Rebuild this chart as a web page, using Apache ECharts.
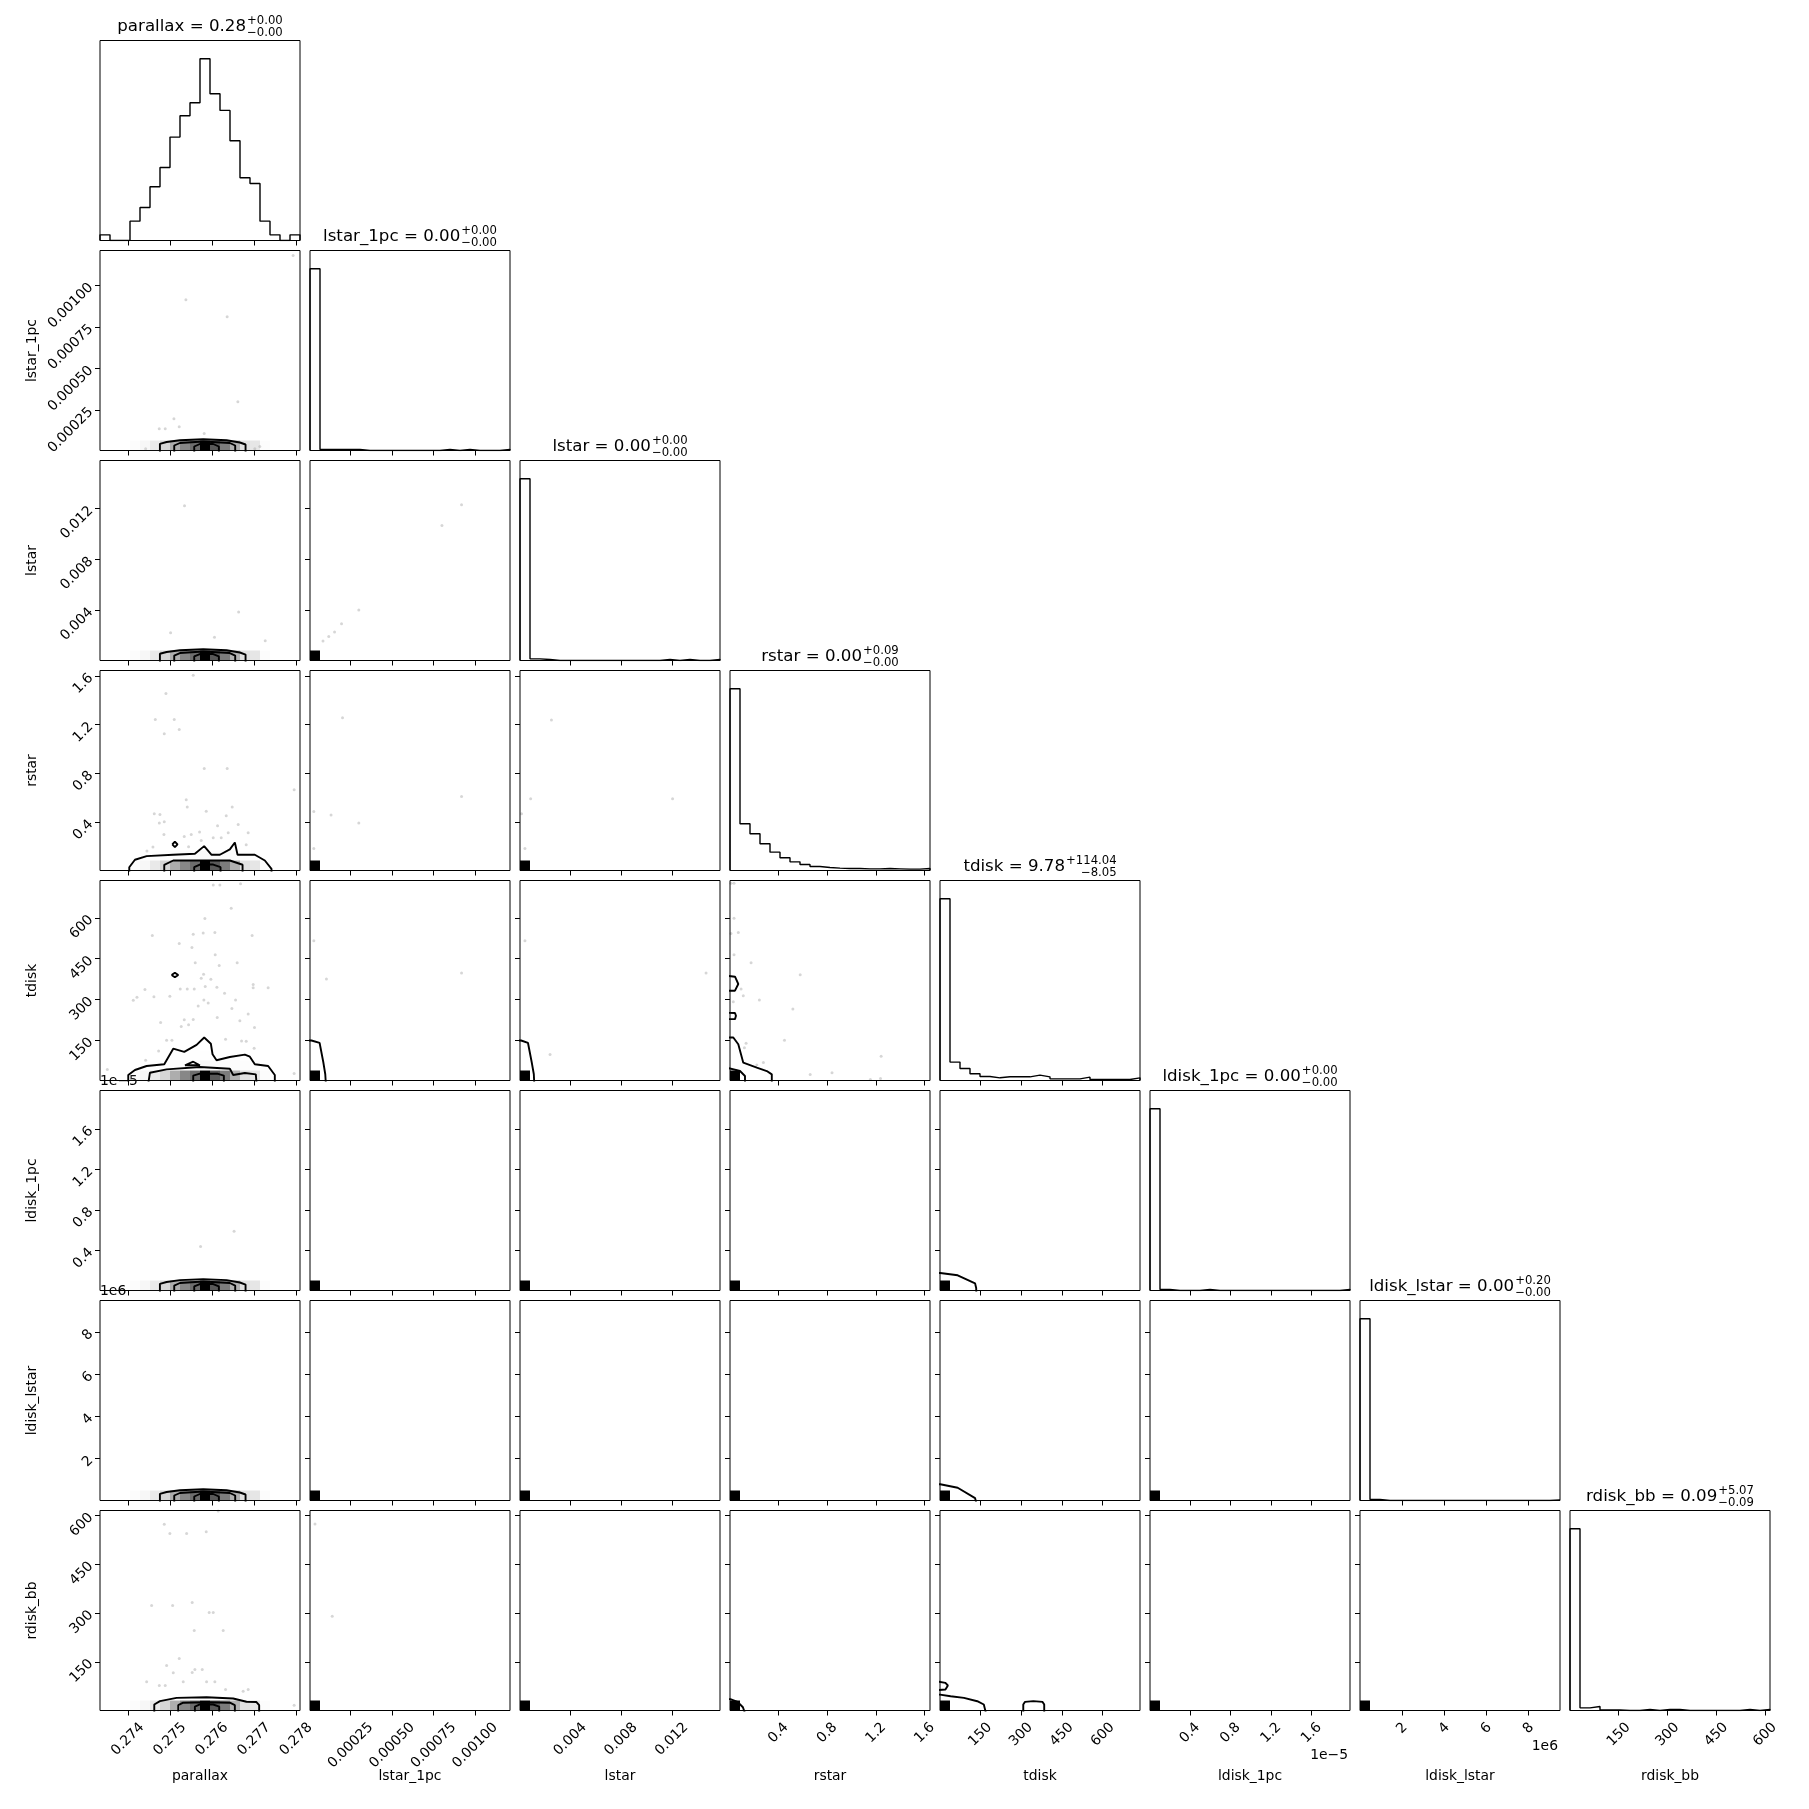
<!DOCTYPE html>
<html><head><meta charset="utf-8">
<script src="https://cdn.jsdelivr.net/npm/echarts@6/dist/echarts.min.js"></script>
<style>html,body{margin:0;padding:0;background:#fff}#c{width:1809px;height:1809px}</style>
</head><body><div id="c"></div>
<script>
const FONT = 'DejaVu Sans';
const names = ['parallax','lstar_1pc','lstar','rstar','tdisk','ldisk_1pc','ldisk_lstar','rdisk_bb'];
const rangeMin = [0.27334, 0.000005, 0.00003, 0.003, 2, 5e-8, 5000, 0];
const rangeMax = [0.27809, 0.00121, 0.0158, 1.644, 737, 1.98e-5, 9.49e6, 615.5];
const tickVals = [
  [0.274,0.275,0.276,0.277,0.278],
  [0.00025,0.0005,0.00075,0.001],
  [0.004,0.008,0.012],
  [0.4,0.8,1.2,1.6],
  [150,300,450,600],
  [0.4e-5,0.8e-5,1.2e-5,1.6e-5],
  [2e6,4e6,6e6,8e6],
  [150,300,450,600]
];
const tickLabels = [
  ['0.274','0.275','0.276','0.277','0.278'],
  ['0.00025','0.00050','0.00075','0.00100'],
  ['0.004','0.008','0.012'],
  ['0.4','0.8','1.2','1.6'],
  ['150','300','450','600'],
  ['0.4','0.8','1.2','1.6'],
  ['2','4','6','8'],
  ['150','300','450','600']
];
const titleMain = ['parallax = 0.28','lstar_1pc = 0.00','lstar = 0.00','rstar = 0.00','tdisk = 9.78','ldisk_1pc = 0.00','ldisk_lstar = 0.00','rdisk_bb = 0.09'];
const titleSup = ['+0.00','+0.00','+0.00','+0.09','+114.04','+0.00','+0.20','+5.07'];
const titleSub = ['\u22120.00','\u22120.00','\u22120.00','\u22120.00','\u22128.05','\u22120.00','\u22120.00','\u22120.09'];

// 1D histograms (20 bins each)
const histParallax = [17,0,0,58,99,161,219,310,374,413,545,440,390,299,188,171,58,17,0,17];
const histLstar1pc = [545,3,3,3,3,0,0,0,0,0,0,0,0,3,0,3,0,0,0,3];
const histLstar = [545,5,3,0,0,0,0,0,0,0,0,0,0,0,3,0,3,0,0,3];
const histRstar = [545,140,110,80,55,38,26,18,12,9,7,6,6,5,5,6,5,4,4,6];
const histTdisk = [543,55,36,20,12,8,11,11,11,16,11,5,5,5,10,3,3,3,3,8];
const histLdisk1pc = [543,3,0,0,0,3,0,0,0,0,0,0,0,0,0,0,0,0,0,3];
const histLdiskLstar = [545,3,0,0,0,0,0,0,0,0,0,0,0,0,0,0,0,0,0,2];
const histRdisk = [545,8,12,2,2,0,0,3,0,3,3,0,0,0,0,0,0,3,0,3];
const hists = [histParallax,histLstar1pc,histLstar,histRstar,histTdisk,histLdisk1pc,histLdiskLstar,histRdisk];

// 2D density: second / third y-bin of parallax column for rstar / tdisk rows
const bandRow2Rstar = [0,0,0,20,30,40,50,60,70,70,80,70,60,50,40,30,20,10,0,0];
const bandRow2Tdisk = [0,0,0,20,30,40,50,60,70,80,90,80,70,60,50,40,30,10,0,0];
const bandRow3Tdisk = [0,0,0,0,10,15,20,25,30,35,40,35,30,25,20,15,10,0,0,0];

// scatter points (x, y) in data units
const pts_1_0 = [[0.27538,0.000913],[0.27636,0.000811],[0.276614,0.000298],[0.275096,0.000196],[0.275221,0.000148],[0.274747,0.000136],[0.274889,0.000136],[0.275815,0.000107],[0.274424,0.000015],[0.277017,0.000015],[0.277136,0.000029],[0.277926,0.00118]];
const pts_2_0 = [[0.275347,0.01223],[0.276633,0.00385],[0.275017,0.00222],[0.276059,0.00186],[0.277264,0.00158]];
const pts_3_0 = [[0.274906,1.455],[0.274653,1.242],[0.275104,1.242],[0.274866,1.126],[0.275222,1.159],[0.275816,0.839],[0.276361,0.839],[0.277951,0.666],[0.275388,0.584],[0.275412,0.524],[0.27648,0.524],[0.275863,0.49],[0.274629,0.469],[0.274764,0.463],[0.274748,0.392],[0.274866,0.403],[0.276132,0.37],[0.276622,0.381],[0.276338,0.452],[0.274858,0.299],[0.275341,0.282],[0.275507,0.299],[0.275705,0.318],[0.276029,0.272],[0.276219,0.272],[0.276385,0.313],[0.276859,0.313],[0.275744,0.25],[0.274597,0.195],[0.274455,0.162],[0.275444,0.198],[0.276812,0.214],[0.275554,1.606]];
const pts_4_0 = [[0.276029,720.9],[0.276187,720.9],[0.276678,724.6],[0.276456,634.7],[0.275831,597.7],[0.274582,534.8],[0.275554,539.6],[0.275791,544.4],[0.276068,545.9],[0.276953,534.8],[0.275222,505.2],[0.275523,490.4],[0.276076,464.5],[0.275602,434.9],[0.276598,434.9],[0.276171,424.9],[0.274218,307.6],[0.27413,296.5],[0.274408,336.1],[0.274621,310.2],[0.274999,311.4],[0.275246,338.7],[0.275412,338.7],[0.275578,338.7],[0.275839,347.2],[0.276116,344.6],[0.275744,377.9],[0.2758,392.7],[0.275973,374.2],[0.276298,322.4],[0.276559,298],[0.275269,200.3],[0.275341,225.1],[0.275444,206.6],[0.275554,226.2],[0.275672,275.8],[0.27591,286.9],[0.275807,298],[0.276124,233.6],[0.276472,266.9],[0.276662,221.4],[0.276859,246.2],[0.276978,342.4],[0.276978,354.6],[0.277333,342.4],[0.27478,215.1],[0.274922,150],[0.275048,150],[0.274732,110.4],[0.274424,76],[0.276322,153.7],[0.276702,147.4],[0.276812,146.3],[0.277001,120.4],[0.277009,196.6],[0.277951,27.9],[0.273514,42.7]];
const pts_5_0 = [[0.275729,4.4e-6],[0.276524,5.9e-6]];
const pts_7_0 = [[0.274866,572.9],[0.274999,545],[0.275397,545],[0.275863,550],[0.276147,613.9],[0.274566,323.4],[0.275065,323.4],[0.27553,332.6],[0.275933,301.8],[0.276029,301.8],[0.275578,246.4],[0.276266,246.4],[0.275222,160.2],[0.274922,138.6],[0.27508,115.8],[0.27553,117],[0.275594,126.3],[0.275768,126.3],[0.275317,88.1],[0.275871,88.1],[0.276068,88.1],[0.274448,88.1],[0.274748,77],[0.274889,77],[0.276322,64.7],[0.27674,59.4],[0.276859,64.7],[0.277951,16.3]];
const pts_2_1 = [[0.0000833,0.00156],[0.000118,0.00192],[0.000153,0.00228],[0.000195,0.00292],[0.000299,0.00401],[0.0008,0.01067],[0.000918,0.01231]];
const pts_3_1 = [[0.000028,0.488],[0.000132,0.459],[0.000201,1.256],[0.000299,0.393],[0.000028,0.184],[0.000918,0.611]];
const pts_3_2 = [[0.00015,0.468],[0.00087,0.591],[0.00251,1.237],[0.01206,0.591],[0.00042,0.184]];
const pts_4_1 = [[0.000028,516],[0.000104,375],[0.000918,397]];
const pts_4_2 = [[0.00042,516],[0.0024,98],[0.0147,397]];
const pts_4_3 = [[0.036,727],[0.011,727],[0.036,598],[0.071,546],[0.011,542],[0.036,464.5],[0.176,435],[0.579,390.5],[0.094,338.7],[0.112,313],[0.244,298],[0.03,291.7],[0.519,264.7],[0.135,138.9],[0.121,122.6],[0.45,150],[0.277,68.6],[0.223,58.6],[0.661,24.2],[0.84,30.1],[1.243,90.8],[1.155,5.7],[1.238,9.4]];
const pts_7_1 = [[0.000035,574],[0.000139,290]];

// contour lines (x, y) in data units
const c_1_0 = [
  [[0.274763,-0.00001],[0.274763,0.0000454],[0.274922,0.0000562],[0.275238,0.000067],[0.275791,0.0000731],[0.276345,0.000067],[0.276662,0.0000532],[0.276797,0.0000412],[0.276797,-0.00001]],
  [[0.275103,-0.00001],[0.275103,0.0000351],[0.275238,0.0000502],[0.275791,0.0000592],[0.276424,0.0000502],[0.276551,0.0000351],[0.276551,-0.00001]],
  [[0.275578,-0.00001],[0.275578,0.0000291],[0.275712,0.0000442],[0.276029,0.0000442],[0.276163,0.0000291],[0.276163,-0.00001]]
];
const c_2_0 = [
  [[0.274763,-0.0002],[0.274763,0.00056],[0.274922,0.0007],[0.275238,0.00084],[0.275791,0.00092],[0.276345,0.00084],[0.276662,0.00066],[0.276797,0.0005],[0.276797,-0.0002]],
  [[0.275103,-0.0002],[0.275103,0.00042],[0.275238,0.00062],[0.275791,0.00074],[0.276424,0.00062],[0.276551,0.00042],[0.276551,-0.0002]],
  [[0.275578,-0.0002],[0.275578,0.00035],[0.275712,0.00054],[0.276029,0.00054],[0.276163,0.00035],[0.276163,-0.0002]]
];
const c_3_0 = [
  [[0.274035,-0.02],[0.274035,0.03],[0.27417,0.091],[0.274448,0.121],[0.275079,0.132],[0.275594,0.14],[0.275814,0.203],[0.27599,0.132],[0.276187,0.132],[0.276424,0.176],[0.276543,0.233],[0.276607,0.132],[0.277017,0.132],[0.277255,0.085],[0.277413,0.017],[0.277413,-0.02]],
  [[0.274866,-0.02],[0.274866,0.05],[0.275079,0.085],[0.276424,0.085],[0.276726,0.05],[0.276726,-0.02]],
  [[0.275577,-0.02],[0.275577,0.03],[0.275712,0.052],[0.276029,0.052],[0.276203,0.03],[0.276203,-0.02]],
  [[0.275056,0.217],[0.275119,0.239],[0.275182,0.217],[0.275119,0.195],[0.275056,0.217]]
];
const c_4_0 = [
  [[0.274011,-10],[0.274011,22],[0.27417,40.5],[0.274448,55.2],[0.274866,61.5],[0.275079,119],[0.275341,107],[0.275634,133],[0.275815,160],[0.275973,137],[0.276013,98.4],[0.276108,76.3],[0.276424,88.4],[0.27678,97],[0.276899,89.5],[0.277017,61.5],[0.277333,55.2],[0.277492,22],[0.277492,-10]],
  [[0.274486,-10],[0.274526,30.6],[0.274922,43],[0.275712,51.6],[0.276424,45.4],[0.276503,22],[0.27678,29.4],[0.277041,24.6],[0.277058,-10]],
  [[0.275554,-10],[0.275554,20],[0.275712,27],[0.276124,27],[0.276282,20],[0.276282,-10]],
  [[0.275357,57.8],[0.275554,71],[0.275712,57.8],[0.275357,57.8]],
  [[0.27504,389.7],[0.275119,398.3],[0.275198,389.7],[0.275119,381.1],[0.27504,389.7]]
];
const c_5_0 = [
  [[0.274763,-1e-6],[0.274763,7.1e-7],[0.274922,8.9e-7],[0.275238,1.07e-6],[0.275791,1.17e-6],[0.276345,1.07e-6],[0.276662,8.4e-7],[0.276797,6.4e-7],[0.276797,-1e-6]],
  [[0.275103,-1e-6],[0.275103,5.4e-7],[0.275238,7.9e-7],[0.275791,9.4e-7],[0.276424,7.9e-7],[0.276551,5.4e-7],[0.276551,-1e-6]],
  [[0.275578,-1e-6],[0.275578,4.5e-7],[0.275712,6.9e-7],[0.276029,6.9e-7],[0.276163,4.5e-7],[0.276163,-1e-6]]
];
const c_6_0 = [
  [[0.274763,-1e5],[0.274763,322800],[0.274922,408100],[0.275238,493500],[0.275791,540900],[0.276345,493500],[0.276662,384400],[0.276797,289600],[0.276797,-1e5]],
  [[0.275103,-1e5],[0.275103,242100],[0.275238,360700],[0.275791,431800],[0.276424,360700],[0.276551,242100],[0.276551,-1e5]],
  [[0.275578,-1e5],[0.275578,194700],[0.275712,313300],[0.276029,313300],[0.276163,194700],[0.276163,-1e5]]
];
const c_7_0 = [
  [[0.274629,-5],[0.274629,18.5],[0.274764,28.7],[0.275159,39],[0.275871,41],[0.276503,37],[0.276819,26.8],[0.277056,26],[0.27712,16.4],[0.27712,-5]],
  [[0.275198,-5],[0.275198,16.4],[0.275317,24],[0.275871,25.6],[0.276424,24],[0.276543,16.4],[0.276543,-5]],
  [[0.275594,-5],[0.275594,12],[0.275712,18.5],[0.276029,18.5],[0.276171,12],[0.276171,-5]]
];
const c_4_1 = [[[-0.0001,149],[0.000014,149],[0.000063,140],[0.000085,70],[0.000097,25],[0.0001,-5]]];
const c_4_2 = [[[-0.001,149],[0.00012,149],[0.00066,140],[0.00095,70],[0.00112,25],[0.00115,-5]]];
const c_4_3 = [
  [[-0.1,160],[0.03,160],[0.071,135.3],[0.112,67.4],[0.223,49],[0.305,36.8],[0.346,24.6],[0.346,-10]],
  [[-0.1,391],[0.044,383.5],[0.071,356.6],[0.044,332],[-0.1,332]],
  [[-0.1,252],[0.044,250],[0.052,239.6],[0.044,227.5],[-0.1,227.5]],
  [[-0.1,57.8],[0.085,36.8],[0.126,18.4],[0.126,-10]]
];
const c_5_4 = [[[-10,1.78e-6],[3,1.78e-6],[67,1.55e-6],[131,0.75e-6],[135,0.3e-6],[136,-1e-6]]];
const c_6_4 = [[[-10,773000],[3,773000],[67,612000],[131,119000],[135,-1e5]]];
const c_7_4 = [
  [[-10,49],[2,49],[41,44],[90,39],[139,28.6],[163,18.5],[170,-5]],
  [[-10,90],[22,85],[31,77],[22,64.7],[-10,62.5]],
  [[308,-5],[308,18.5],[314,26.5],[345,29],[379,26.5],[385,18.5],[385,-5]]
];
const c_7_3 = [[[-0.1,35],[0.006,35],[0.065,26.5],[0.109,10],[0.132,-15]]];

const pointsMap = {'1_0':pts_1_0,'2_0':pts_2_0,'3_0':pts_3_0,'4_0':pts_4_0,'5_0':pts_5_0,'7_0':pts_7_0,'2_1':pts_2_1,'3_1':pts_3_1,'3_2':pts_3_2,'4_1':pts_4_1,'4_2':pts_4_2,'4_3':pts_4_3,'7_1':pts_7_1};
const contourMap = {'1_0':c_1_0,'2_0':c_2_0,'3_0':c_3_0,'4_0':c_4_0,'5_0':c_5_0,'6_0':c_6_0,'7_0':c_7_0,'4_1':c_4_1,'4_2':c_4_2,'4_3':c_4_3,'5_4':c_5_4,'6_4':c_6_4,'7_4':c_7_4,'7_3':c_7_3};

// ---------- layout ----------
const K = 8, L0 = 100, T0 = 40.5, SZ = 200, STEP = 210, NB = 20;
const cvs = document.createElement('canvas').getContext('2d');
function textW(t, px) { cvs.font = px + 'px "' + FONT + '"'; return cvs.measureText(t).width; }

function labelFor(v, val) {
  const tv = tickVals[v]; let best = 0;
  for (let k = 1; k < tv.length; k++) if (Math.abs(tv[k]-val) < Math.abs(tv[best]-val)) best = k;
  return tickLabels[v][best];
}
const xMargin = tickLabels.map(ls => { const w = Math.max(...ls.map(s => textW(s, 13.9))); return 9 + (w + 16) * 0.354; });

const grids = [], xAxes = [], yAxes = [], series = [], graphics = [];
function cellColorFrac(f) { const t = 1 - f; const c = Math.round(t*255); return 'rgba(' + c + ',' + c + ',' + c + ',' + (1-t).toFixed(3) + ')'; }

function histLine(v) {
  const h = hists[v], bw = (rangeMax[v]-rangeMin[v]) / NB, pts = [];
  pts.push([rangeMin[v], 0]);
  for (let k = 0; k < NB; k++) { const e0 = rangeMin[v] + k*bw, e1 = e0 + bw; pts.push([e0, h[k]]); pts.push([e1, h[k]]); }
  pts.push([rangeMax[v], 0]);
  return pts;
}

let g = 0;
for (let i = 0; i < K; i++) {
  for (let j = 0; j <= i; j++) {
    const left = L0 + STEP*j, top = T0 + STEP*i;
    grids.push({left: left, top: top, width: SZ, height: SZ, show: true, borderColor: '#000', borderWidth: 1, backgroundColor: 'transparent'});
    const bottomRow = (i === K-1);
    xAxes.push({
      gridIndex: g, type: 'value', min: rangeMin[j], max: rangeMax[j], scale: true,
      axisLine: {show: false}, splitLine: {show: false},
      axisTick: {show: true, customValues: tickVals[j], length: 5, lineStyle: {color: '#000', width: 1}},
      axisLabel: {show: bottomRow, customValues: tickVals[j], formatter: (val) => labelFor(j, val), rotate: 45,
        align: 'center', verticalAlign: 'middle', margin: xMargin[j], fontFamily: FONT, fontSize: 13.9, color: '#000'}
    });
    if (i === j) {
      const hmax = Math.max(...hists[j]);
      yAxes.push({gridIndex: g, type: 'value', min: 0, max: hmax*1.1, axisLine: {show: false}, splitLine: {show: false}, axisTick: {show: false}, axisLabel: {show: false}});
      series.push({type: 'line', xAxisIndex: g, yAxisIndex: g, data: histLine(j), symbol: 'none', clip: true,
        lineStyle: {color: '#000', width: 1.4}, animation: false, z: 5});
    } else {
      yAxes.push({
        gridIndex: g, type: 'value', min: rangeMin[i], max: rangeMax[i], scale: true,
        axisLine: {show: false}, splitLine: {show: false},
        axisTick: {show: true, customValues: tickVals[i], length: 5, lineStyle: {color: '#000', width: 1}},
        axisLabel: {show: j === 0, customValues: tickVals[i], formatter: (val) => labelFor(i, val), rotate: 45,
          margin: 9, fontFamily: FONT, fontSize: 13.9, color: '#000'}
      });
      const bwx = (rangeMax[j]-rangeMin[j]) / NB, bwy = (rangeMax[i]-rangeMin[i]) / NB;
      const cells = [];
      if (j === 0) {
        const hm = Math.max(...histParallax);
        histParallax.forEach((c, k) => { if (c > 0) cells.push([rangeMin[0]+k*bwx, rangeMin[0]+(k+1)*bwx, rangeMin[i], rangeMin[i]+bwy, c/hm]); });
        if (i === 3) bandRow2Rstar.forEach((c, k) => { if (c > 0) cells.push([rangeMin[0]+k*bwx, rangeMin[0]+(k+1)*bwx, rangeMin[i]+bwy, rangeMin[i]+2*bwy, c/hm]); });
        if (i === 4) {
          bandRow2Tdisk.forEach((c, k) => { if (c > 0) cells.push([rangeMin[0]+k*bwx, rangeMin[0]+(k+1)*bwx, rangeMin[i]+bwy, rangeMin[i]+2*bwy, c/hm]); });
          bandRow3Tdisk.forEach((c, k) => { if (c > 0) cells.push([rangeMin[0]+k*bwx, rangeMin[0]+(k+1)*bwx, rangeMin[i]+2*bwy, rangeMin[i]+3*bwy, c/hm]); });
        }
      } else {
        cells.push([rangeMin[j], rangeMin[j]+bwx, rangeMin[i], rangeMin[i]+bwy, 1]);
      }
      const key = i + '_' + j;
      if (pointsMap[key]) series.push({type: 'scatter', xAxisIndex: g, yAxisIndex: g, data: pointsMap[key], symbolSize: 3,
        itemStyle: {color: 'rgba(0,0,0,0.2)'}, silent: true, animation: false, z: 1});
      series.push({type: 'custom', xAxisIndex: g, yAxisIndex: g, data: cells, clip: true, animation: false, z: 2, silent: true,
        encode: {x: [0, 1], y: [2, 3]},
        renderItem: (params, api) => {
          const a = api.coord([api.value(0), api.value(2)]);
          const b = api.coord([api.value(1), api.value(3)]);
          return {type: 'rect', shape: {x: Math.min(a[0], b[0]), y: Math.min(a[1], b[1]), width: Math.abs(b[0]-a[0]), height: Math.abs(b[1]-a[1])},
            style: {fill: cellColorFrac(api.value(4))}};
        }});
      if (contourMap[key]) contourMap[key].forEach(cl => series.push({type: 'line', xAxisIndex: g, yAxisIndex: g, data: cl, symbol: 'none', clip: true,
        lineStyle: {color: '#000', width: 1.9}, animation: false, z: 4, silent: true}));
    }
    g++;
  }
}

// titles above diagonal panels
for (let j = 0; j < K; j++) {
  const top = T0 + STEP*j, cx = L0 + STEP*j + SZ/2;
  const wm = textW(titleMain[j], 16.67), ws = Math.max(textW(titleSup[j], 11.67), textW(titleSub[j], 11.67));
  const x0 = cx - (wm + ws + 1)/2;
  graphics.push({type: 'text', x: x0, y: top - 13.5, style: {text: titleMain[j], font: '16.67px "' + FONT + '"', fill: '#000', align: 'left', verticalAlign: 'middle'}});
  graphics.push({type: 'text', x: x0 + wm + ws + 1, y: top - 19.5, style: {text: titleSup[j], font: '11.67px "' + FONT + '"', fill: '#000', align: 'right', verticalAlign: 'middle'}});
  graphics.push({type: 'text', x: x0 + wm + ws + 1, y: top - 8, style: {text: titleSub[j], font: '11.67px "' + FONT + '"', fill: '#000', align: 'right', verticalAlign: 'middle'}});
}
// axis names
for (let j = 0; j < K; j++) {
  graphics.push({type: 'text', x: L0 + STEP*j + SZ/2, y: T0 + STEP*(K-1) + SZ + 66, style: {text: names[j], font: '13.9px "' + FONT + '"', fill: '#000', align: 'center', verticalAlign: 'middle'}});
}
for (let i = 1; i < K; i++) {
  graphics.push({type: 'text', x: 32.5, y: T0 + STEP*i + SZ/2, rotation: Math.PI/2, style: {text: names[i], font: '13.9px "' + FONT + '"', fill: '#000', align: 'center', verticalAlign: 'middle'}});
}
// offset (scale) texts
const offsetTexts = [
  {text: '1e\u22125', x: L0, y: T0 + STEP*5 - 9.5, align: 'left'},
  {text: '1e6', x: L0, y: T0 + STEP*6 - 9.5, align: 'left'},
  {text: '1e\u22125', x: L0 + STEP*5 + SZ - 2, y: 1755.7, align: 'right'},
  {text: '1e6', x: L0 + STEP*6 + SZ - 2, y: 1746.6, align: 'right'}
];
offsetTexts.forEach(o => graphics.push({type: 'text', x: o.x, y: o.y, style: {text: o.text, font: '13.9px "' + FONT + '"', fill: '#000', align: o.align, verticalAlign: 'middle'}}));

const chart = echarts.init(document.getElementById('c'), null, {renderer: 'canvas', width: 1809, height: 1809});
chart.setOption({backgroundColor: '#fff', animation: false, grid: grids, xAxis: xAxes, yAxis: yAxes, series: series, graphic: graphics});
</script></body></html>
